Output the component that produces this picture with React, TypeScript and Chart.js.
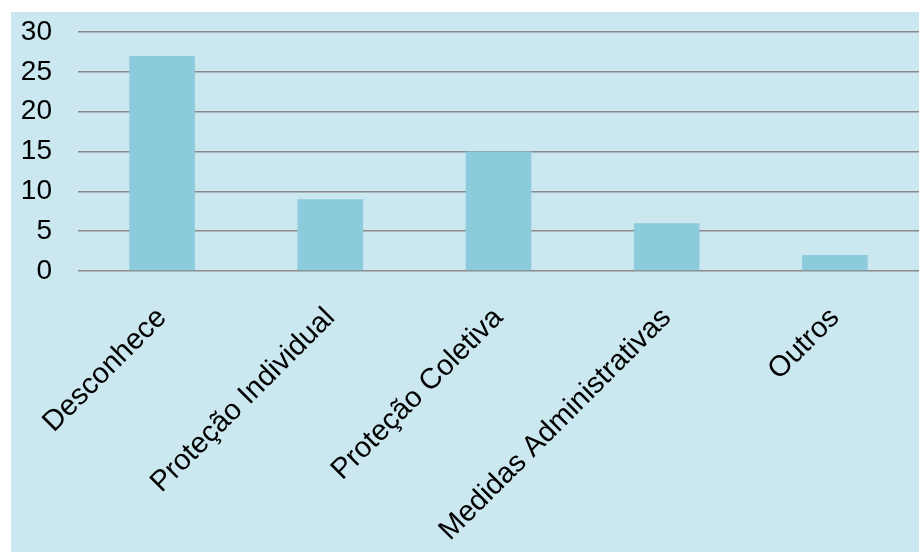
import React, { useEffect, useRef } from "react";
import { Chart, registerables } from "chart.js";

Chart.register(...registerables);

const categories = [
  "Desconhece",
  "Proteção Individual",
  "Proteção Coletiva",
  "Medidas Administrativas",
  "Outros",
];
const values = [27, 9, 15, 6, 2];

const W = 908;
const H = 540;

export default function App() {
  const ref = useRef<HTMLCanvasElement | null>(null);
  useEffect(() => {
    if (!ref.current) return;
    const chart = new Chart(ref.current, {
      type: "bar",
      data: {
        labels: categories,
        datasets: [
          {
            data: values,
            backgroundColor: "#8BCBDC",
            categoryPercentage: 1,
            barPercentage: 0.39,
          },
        ],
      },
      options: {
        responsive: false,
        animation: false,
        layout: { padding: { top: 20, right: 0, left: 0, bottom: 0 } },
        plugins: { legend: { display: false }, tooltip: { enabled: false } },
        scales: {
          x: {
            grid: { display: false, drawTicks: false },
            border: { display: false },
            ticks: {
              color: "#000",
              font: { family: "'Liberation Sans', Arial, sans-serif", size: 29 },
              minRotation: 45,
              maxRotation: 45,
              padding: 30,
              autoSkip: false,
            },
            afterFit: (s: any) => {
              s.height = 281;
            },
          },
          y: {
            min: 0,
            max: 30,
            grid: {
              color: "#8a8a8a",
              lineWidth: 1.5,
              drawTicks: true,
              tickLength: 26,
              tickColor: "rgba(0,0,0,0)",
            },
            border: { display: false },
            ticks: {
              color: "#000",
              stepSize: 5,
              autoSkip: false,
              font: { family: "'Liberation Sans', Arial, sans-serif", size: 28 },
              padding: 0,
            },
            afterFit: (s: any) => {
              s.width = 67;
            },
          },
        },
      },
    });
    return () => chart.destroy();
  }, []);
  return (
    <div
      style={{
        position: "absolute",
        left: 11,
        top: 12,
        width: W,
        height: H,
        background: "#CBE7F0",
      }}
    >
      <canvas ref={ref} width={W} height={H} style={{ display: "block" }} />
    </div>
  );
}
